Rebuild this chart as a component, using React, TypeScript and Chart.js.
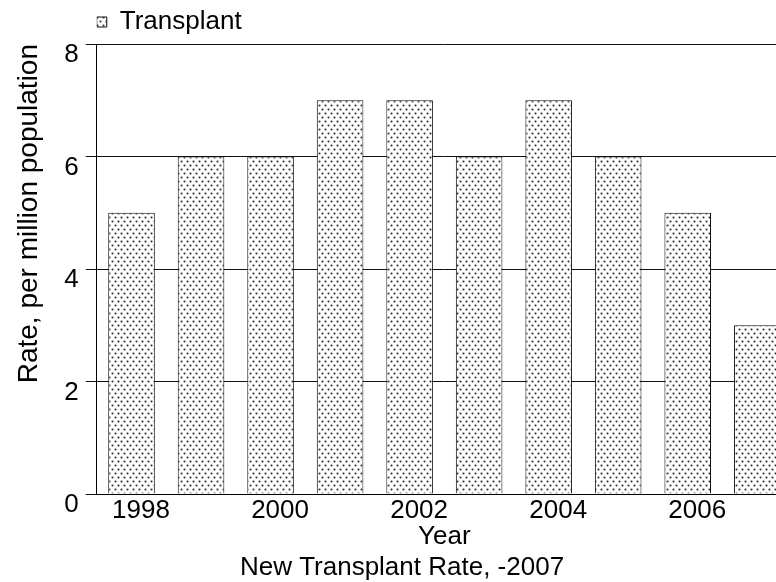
import { useEffect, useRef } from 'react';
import { Chart, registerables } from 'chart.js';

Chart.register(...registerables);

const years = ['1998', '1999', '2000', '2001', '2002', '2003', '2004', '2005', '2006', '2007'];
const transplantRate = [5, 6, 6, 7, 7, 6, 7, 6, 5, 3];
const shownYearLabels = ['1998', '2000', '2002', '2004', '2006'];
const yTickValues = [0, 2, 4, 6, 8];
const seriesName = 'Transplant';
const chartTitle = 'New Transplant Rate, -2007';
const xTitle = 'Year';
const yTitle = 'Rate, per million population';

function makeDotPattern(ctx: CanvasRenderingContext2D): CanvasPattern | string {
  const tile = document.createElement('canvas');
  tile.width = 6;
  tile.height = 8;
  const t = tile.getContext('2d');
  if (!t) return '#ddd';
  t.fillStyle = '#ffffff';
  t.fillRect(0, 0, 6, 8);
  const dots = [
    [1, 1],
    [4, 5],
  ];
  for (const [x, y] of dots) {
    t.fillStyle = '#a8a8a8';
    t.fillRect(x - 1, y, 1, 1);
    t.fillRect(x + 1, y, 1, 1);
    t.fillRect(x, y - 1, 1, 1);
    t.fillRect(x, y + 1, 1, 1);
    t.fillStyle = '#e0e0e0';
    t.fillRect(x - 1, y - 1, 1, 1);
    t.fillRect(x + 1, y - 1, 1, 1);
    t.fillRect(x - 1, y + 1, 1, 1);
    t.fillRect(x + 1, y + 1, 1, 1);
    t.fillStyle = '#2a2a2a';
    t.fillRect(x, y, 1, 1);
  }
  return ctx.createPattern(tile, 'repeat') || '#ddd';
}

export default function App() {
  const canvasRef = useRef<HTMLCanvasElement | null>(null);

  useEffect(() => {
    const canvas = canvasRef.current;
    if (!canvas) return;
    const ctx = canvas.getContext('2d');
    if (!ctx) return;
    Chart.defaults.font.family = "'Liberation Sans', Arial, sans-serif";
    Chart.defaults.color = '#000';
    const pattern = makeDotPattern(ctx);

    const chart = new Chart(ctx, {
      type: 'bar',
      data: {
        labels: years,
        datasets: [
          {
            label: seriesName,
            data: transplantRate,
            backgroundColor: pattern as any,
            borderColor: '#111',
            borderWidth: 1,
            categoryPercentage: 1,
            barPercentage: 0.67,
          },
        ],
      },
      options: {
        responsive: false,
        animation: false,
        layout: { padding: { top: 9, left: 12, right: 0, bottom: 0 } },
        plugins: {
          legend: {
            position: 'top',
            align: 'start',
            fullSize: false,
            maxHeight: 35,
            labels: {
              boxWidth: 10,
              boxHeight: 10,
              padding: 0,
              color: '#000',
              font: { size: 26 },
            },
          },
          title: {
            display: true,
            position: 'bottom',
            text: chartTitle,
            color: '#000',
            font: { size: 26, weight: 'normal', lineHeight: 1 },
            padding: { top: 5, bottom: 1 },
          },
          tooltip: { enabled: false },
        },
        scales: {
          x: {
            grid: { display: false, drawTicks: false },
            border: { display: true, color: '#000', width: 1 },
            ticks: {
              autoSkip: false,
              maxRotation: 0,
              minRotation: 0,
              padding: 4,
              labelOffset: 9.5,
              color: '#000',
              font: { size: 26, lineHeight: 1 },
              callback: (_v: any, i: number) =>
                shownYearLabels.includes(years[i]) ? years[i] : '',
            },
            title: {
              display: true,
              text: xTitle,
              color: '#000',
              font: { size: 26, lineHeight: 1 },
              padding: { top: -4, bottom: 0 },
            },
          },
          y: {
            min: yTickValues[0],
            max: yTickValues[yTickValues.length - 1],
            afterBuildTicks: (scale: any) => {
              scale.ticks = yTickValues.map((v) => ({ value: v }));
            },
            ticks: {
              padding: 7,
              labelOffset: 11,
              color: '#000',
              font: { size: 26 },
            },
            grid: { color: '#111', lineWidth: 1, tickLength: 11, drawTicks: true },
            border: { display: true, color: '#000', width: 1 },
            title: {
              display: true,
              text: yTitle,
              align: 'end',
              color: '#000',
              font: { size: 28, lineHeight: 1.2 },
              padding: { top: 0, bottom: 11.7 },
            },
          },
        },
      },
    } as any);

    return () => chart.destroy();
  }, []);

  return (
    <div
      style={{
        position: 'fixed',
        left: 0,
        top: 0,
        width: 776,
        height: 582,
        overflow: 'hidden',
        background: '#fff',
      }}
    >
      <canvas ref={canvasRef} width={792} height={582} style={{ display: 'block' }} />
    </div>
  );
}
